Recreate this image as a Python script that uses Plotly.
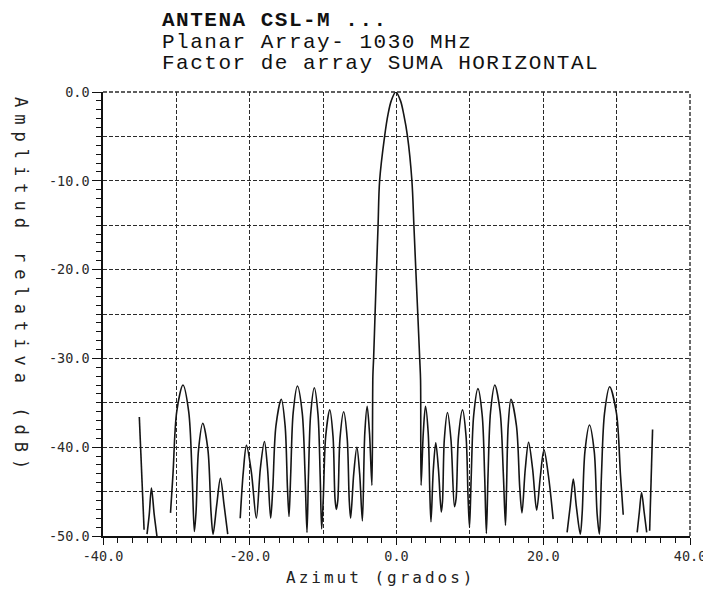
import plotly.graph_objects as go

# ---- data (None = pen lifted, curve below -50 dB) ----
azimuth_deg = [
    -35.05, -34.4, None,
    -34.0, -33.7, -33.4, -33.02, -32.65, None,
    -30.8, -30.46, -29.95, -29.1, -28.32, -27.86, -27.55,
    -27.32, -26.98, -26.4, -25.7, -25.28, -25.0,
    -24.5, -24.0, -23.5, -23.0, None,
    -21.3, -20.88, -20.45, -19.78, -19.1,
    -18.55, -18.0, -17.58, -17.15,
    -16.86, -16.43, -15.7, -15.18, -14.86, -14.65,
    -14.42, -14.08, -13.5, -12.85, -12.46, -12.2,
    -12.0, -11.7, -11.2, -10.7, -10.4, -10.2,
    -9.98, -9.65, -9.1, -8.65, -8.38, -8.2,
    -8.0, -7.7, -7.2, -6.72, -6.44, -6.25,
    -5.83, -5.4, -5.02, -4.65,
    -4.32, -4.0, -3.68, -3.35,
    -3.22, -3.12, -2.92, -2.72, -2.51, -2.3, -1.62, -1.15, -0.72, -0.1,
    0.55, 0.98, 1.5, 2.1, 2.37, 2.63, 2.9, 3.16, 3.28, 3.35,
    3.65, 3.95, 4.32, 4.55, 4.7,
    5.02, 5.35, 5.72, 6.1,
    6.27, 6.52, 6.95, 7.42, 7.9,
    8.12, 8.45, 9.0, 9.48, 9.76, 9.95,
    10.18, 10.52, 11.1, 11.68, 12.02, 12.25,
    12.48, 12.82, 13.4, 14.12, 14.56, 14.85,
    15.0, 15.22, 15.6, 16.35, 16.8, 17.1,
    17.55, 18.0, 18.55, 19.1,
    19.6, 20.1, 20.72, 21.35, None,
    23.25, 23.68, 24.1, 24.5, 25.05,
    25.3, 25.68, 26.3, 26.95, 27.34, 27.65,
    27.93, 28.35, 29.05, 29.98, 30.53, 30.9, None,
    32.8, 33.1, 33.4, 33.75, 34.1, None,
    34.5, 34.9,
]
amplitude_db = [
    -36.6, -49.3, None,
    -49.8, -47.6, -44.6, -47.6, -50.0, None,
    -47.4, -43.0, -36.0, -33.0, -36.0, -43.0, -49.5,
    -47.3, -40.3, -37.3, -40.3, -47.3, -49.8,
    -46.5, -43.5, -46.5, -49.8, None,
    -48.0, -42.8, -39.8, -42.8, -48.0,
    -42.35, -39.35, -42.35, -48.0,
    -44.6, -37.6, -34.6, -37.6, -44.6, -47.8,
    -43.1, -36.1, -33.1, -36.1, -43.1, -49.6,
    -43.3, -36.3, -33.3, -36.3, -43.3, -49.2,
    -45.8, -38.8, -35.8, -38.8, -45.8, -47.0,
    -46.0, -39.0, -36.0, -39.0, -46.0, -48.0,
    -43.0, -40.0, -43.0, -48.3,
    -38.4, -35.4, -38.4, -44.3,
    -32.0, -30.0, -25.0, -20.0, -15.0, -10.0, -5.0, -2.5, -1.0, 0.0,
    -1.0, -2.5, -5.0, -10.0, -15.0, -20.0, -25.0, -30.0, -32.5, -44.3,
    -38.4, -35.4, -38.4, -45.4, -48.4,
    -42.5, -39.5, -42.5, -47.3,
    -46.1, -39.1, -36.1, -39.1, -46.7,
    -45.8, -38.8, -35.8, -38.8, -45.8, -49.0,
    -43.4, -36.4, -33.4, -36.4, -43.4, -49.7,
    -43.0, -36.0, -33.0, -36.0, -43.0, -48.8,
    -44.6, -37.6, -34.6, -37.6, -44.6, -47.4,
    -42.45, -39.45, -42.45, -47.1,
    -43.3, -40.3, -43.3, -48.1, None,
    -49.6, -46.6, -43.6, -46.6, -49.8,
    -47.5, -40.5, -37.5, -40.5, -47.5, -49.8,
    -43.2, -36.2, -33.2, -36.2, -43.2, -47.6, None,
    -49.6, -47.3, -45.1, -47.3, -49.6, None,
    -49.4, -38.0,
]

x_tickvals = [-40, -30, -20, -10, 0, 10, 20, 30, 40]
x_ticktext = ["-40.0", "", "-20.0", "", "0.0", "", "20.0", "", "40.0"]
y_tickvals = [0, -5, -10, -15, -20, -25, -30, -35, -40, -45, -50]
y_ticktext = ["0.0", "", "-10.0", "", "-20.0", "", "-30.0", "", "-40.0", "", "-50.0"]
x_minor = list(range(-40, 41, 2))
y_minor = list(range(-50, 1, 1))

title_lines = [
    "ANTENA CSL-M ...",
    "Planar Array- 1030 MHz",
    "Factor de array SUMA HORIZONTAL",
]
x_title = "Azimut (grados)"
y_title = "Amplitud relativa (dB)"

# ---- layout geometry (figure pixels; page body adds an 8px offset) ----
OFF = 8
W, H = 703, 581
L, R, T, B = 95, 21, 84, 53
PW, PH = W - L - R, H - T - B


def px(xs):  # screen x -> paper x
    return (xs - OFF - L) / PW


def py(ys):  # screen y -> paper y
    return (H - B - (ys - OFF)) / PH


fig = go.Figure()
fig.add_trace(go.Scatter(
    x=azimuth_deg, y=amplitude_db, mode="lines",
    line=dict(color="#151515", width=1.6, shape="spline", smoothing=0.9),
    connectgaps=False, hoverinfo="skip", showlegend=False,
))

tick_font = dict(family="DejaVu Sans Mono, monospace", size=13.5, color="#2a2a2a")
grid_common = dict(showgrid=True, gridcolor="#2a2a2a", gridwidth=1.4, griddash="4px,2px",
                   zeroline=False, showline=True, linecolor="#111", linewidth=1.5,
                   ticks="outside", tickcolor="#111", tickwidth=1.2, tickfont=tick_font,
                   tickmode="array")

fig.update_xaxes(range=[-40, 40], tickvals=x_tickvals, ticktext=x_ticktext, ticklen=7,
                 minor=dict(tickmode="array", tickvals=x_minor, ticks="outside", ticklen=5,
                            tickcolor="#111", tickwidth=1.1, showgrid=False),
                 **grid_common)
fig.update_yaxes(range=[-50, 0], tickvals=y_tickvals, ticktext=y_ticktext, ticklen=9,
                 minor=dict(tickmode="array", tickvals=y_minor, ticks="outside", ticklen=5,
                            tickcolor="#111", tickwidth=1.1, showgrid=False),
                 **grid_common)

# dotted border on top and right (grid lines at range ends)
for x0, y0, x1, y1 in [(0, 1, 1, 1), (1, 0, 1, 1)]:
    fig.add_shape(type="line", xref="paper", yref="paper", x0=x0, y0=y0, x1=x1, y1=y1,
                  line=dict(color="#2a2a2a", width=1.4, dash="4px,2px"))

for i, (txt, ys) in enumerate(zip(title_lines, [20, 42, 64])):
    f = dict(family="Liberation Mono, Courier New, monospace", size=21, color="#111",
             weight="bold" if i == 0 else "normal")
    fig.add_annotation(text='<span style="letter-spacing:1.5px">' + txt + '</span>',
                       xref="paper", yref="paper", x=px(160), y=py(ys),
                       xanchor="left", yanchor="middle", showarrow=False, font=f)

fig.add_annotation(text='<span style="letter-spacing:3px">' + x_title + '</span>',
                   xref="paper", yref="paper", x=px(381), y=py(577),
                   xanchor="center", yanchor="middle", showarrow=False,
                   font=dict(family="DejaVu Sans Mono, monospace", size=16, color="#222"))
fig.add_annotation(text='<span style="letter-spacing:7px">' + y_title + '</span>',
                   xref="paper", yref="paper", x=px(21), y=py(286), textangle=90,
                   xanchor="center", yanchor="middle", showarrow=False,
                   font=dict(family="DejaVu Sans Mono, monospace", size=17, color="#222"))

fig.update_layout(width=W, height=H, margin=dict(l=L, r=R, t=T, b=B, autoexpand=False),
                  paper_bgcolor="white", plot_bgcolor="white", showlegend=False)

fig.write_html("out.html")
